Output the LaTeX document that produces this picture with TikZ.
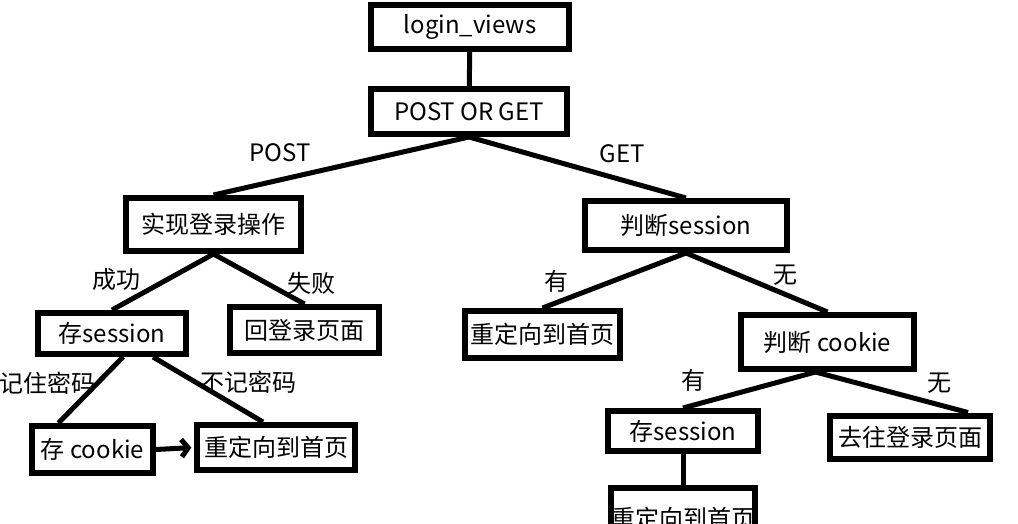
\documentclass[tikz,border=0pt]{standalone}
\usepackage{fontspec}
\setmainfont{Noto Sans CJK SC}
\usetikzlibrary{arrows.meta,calc}

\begin{document}
\begin{tikzpicture}[x=0.75pt,y=-0.75pt,
	every node/.style={font=\fontsize{18pt}{21pt}\selectfont},
	box/.style 2 args={draw, line width=4.5pt, inner sep=0pt, minimum width=#1*0.75pt, minimum height=#2*0.75pt},
	link/.style={line width=3.75pt}]
		\useasboundingbox (0,0) rectangle (1018,524);
		\clip (0,0) rectangle (1018,524);
		% boxes
		\node[box={198}{44}] (views) at (470,27) {login\_views};
		\node[box={196}{45}] (pog) at (469,111.5) {POST OR GET};
		\node[box={175}{53}] (act) at (213.5,224.5) {实现登录操作};
		\node[box={148}{41}] (ss1) at (112,333.5) {存session};
		\node[box={149}{46}] (back) at (304.5,330) {回登录页面};
		\node[box={121}{47}] (ck1) at (92.5,449.5) {存 cookie};
		\node[box={158}{45}] (home1) at (276,447.5) {重定向到首页};
		\node[box={202}{49}] (js) at (686,225.5) {判断session};
		\node[box={155}{47}] (home2) at (542.5,334.5) {重定向到首页};
		\node[box={173}{54}] (ck2) at (827.5,342) {判断 cookie};
		\node[box={150}{40}] (ss2) at (683,431) {存session};
		\node[box={160}{43}] (go) at (910,437) {去往登录页面};
		\node[box={144}{60}] (home3) at (683,518) {重定向到首页};
		% edge labels
		\foreach \x/\y/\t [count=\i] in {280/153/POST, 622/154/GET, 116/279/成功, 311/283/失败,
				47/383/记住密码, 248/382/不记密码, 556/281/有, 785/275/无, 693/380/有, 939/383/无}
			\node (lbl\i) at (\x,\y) {\t};
		% links
		\draw[link] (views) -- (pog);
		\draw[link] (pog.south) -- (act.north);
		\draw[link] (pog.south) -- (js.north);
		\draw[link] (act.south) -- (ss1.north);
		\draw[link] (act.south) -- (back.north);
		\draw[link] ($(ss1.south)+(11,0)$) -- ($(ck1.north)+(-34,0)$);
		\draw[link] ($(ss1.south)+(41,0)$) -- ($(home1.north)+(-13,0)$);
		\draw[link,-{Straight Barb[length=5pt,width=13pt]},shorten >=2pt] (ck1.east) -- (home1.west);
		\draw[link] (js.south) -- (home2.north);
		\draw[link] (js.south) -- (ck2.north);
		\draw[link] ($(ck2.south)+(-12,0)$) -- (ss2.north);
		\draw[link] ($(ck2.south)+(-12,0)$) -- ($(go.north east)+(-25,0)$);
		\draw[link] (ss2) -- (home3);
	\end{tikzpicture}
\end{document}
